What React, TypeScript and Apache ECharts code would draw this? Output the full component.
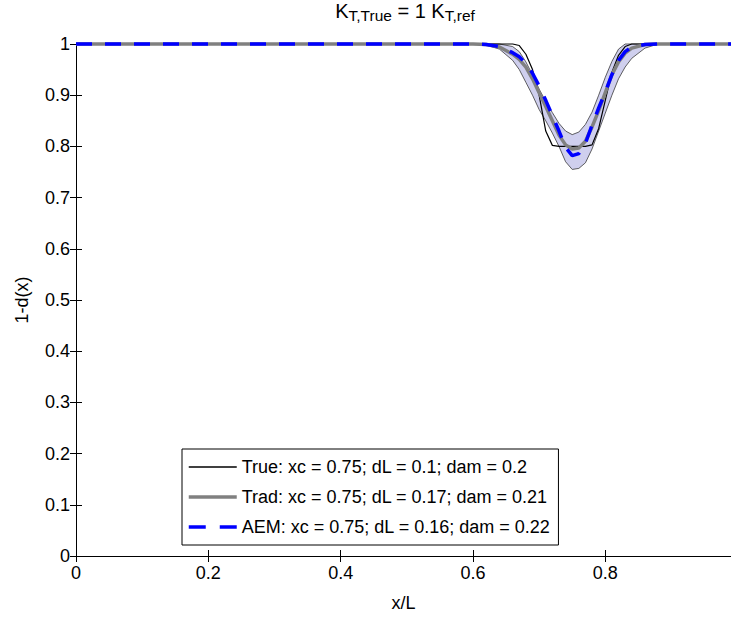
import React, { useEffect, useRef } from 'react';
import * as echarts from 'echarts';

// x/L positions (shared by all curves)
const xs = [0, 0.6, 0.62, 0.64, 0.66, 0.67, 0.68, 0.69, 0.7, 0.71, 0.72, 0.73, 0.74, 0.75, 0.76, 0.77, 0.78, 0.79, 0.8, 0.81, 0.82, 0.83, 0.84, 0.86, 0.88, 0.99];
// 1-d(x) values
const trueVals = [1, 1, 1, 1, 1, 0.997, 0.98, 0.95, 0.9, 0.83, 0.802, 0.8, 0.8, 0.8, 0.8, 0.8, 0.803, 0.835, 0.89, 0.945, 0.978, 0.995, 1, 1, 1, 1];
const tradVals = [1, 1, 0.999, 0.994, 0.98, 0.97, 0.955, 0.932, 0.905, 0.878, 0.85, 0.822, 0.803, 0.795, 0.797, 0.81, 0.838, 0.87, 0.905, 0.94, 0.965, 0.982, 0.992, 0.999, 1, 1];
const aemVals = [1, 1, 0.999, 0.995, 0.983, 0.975, 0.962, 0.943, 0.918, 0.89, 0.86, 0.83, 0.798, 0.782, 0.786, 0.806, 0.842, 0.875, 0.906, 0.94, 0.968, 0.985, 0.994, 0.999, 1, 1];
const bandLow = [1, 1, 0.998, 0.99, 0.968, 0.95, 0.925, 0.9, 0.872, 0.85, 0.826, 0.8, 0.77, 0.755, 0.757, 0.768, 0.795, 0.83, 0.865, 0.9, 0.932, 0.955, 0.972, 0.992, 1, 1];
const bandHigh = [1, 1, 1, 1, 0.995, 0.985, 0.965, 0.94, 0.912, 0.888, 0.866, 0.845, 0.83, 0.823, 0.828, 0.843, 0.867, 0.9, 0.935, 0.966, 0.99, 1, 1, 1, 1, 1];

const seriesNames = [
  'True: xc = 0.75; dL = 0.1; dam = 0.2',
  'Trad: xc = 0.75; dL = 0.17; dam = 0.21',
  'AEM: xc = 0.75; dL = 0.16; dam = 0.22',
];

const FONT = "'Liberation Sans', Arial, Helvetica, sans-serif";

const pairs = (vals: number[]) => xs.map((x, i) => [x, vals[i]]);
const fmt = (v: number) => String(parseFloat(Number(v).toFixed(3)));

export default function App() {
  const ref = useRef<HTMLDivElement>(null);
  useEffect(() => {
    document.body.style.margin = '0';
    const chart = echarts.init(ref.current!, null, { renderer: 'svg' });
    const axisCommon = {
      axisLine: { show: true, lineStyle: { color: '#000', width: 1 } },
      axisTick: { show: true, inside: true, length: 6, lineStyle: { color: '#000', width: 1 } },
      splitLine: { show: false },
    };
    const trueStyle = { color: '#000', width: 1.2 };
    const tradStyle = { color: '#808080', width: 3.5 };
    const aemStyle = { color: '#0000ff', width: 3.5, type: [16, 13] };
    chart.setOption({
      animation: false,
      backgroundColor: '#fff',
      graphic: [
        {
          type: 'text',
          x: 405,
          y: 1,
          style: {
            text: '{k|K}{s|T,True}{k| = 1 K}{s|T,ref}',
            textAlign: 'center',
            textVerticalAlign: 'top',
            rich: {
              k: { fontSize: 20, fontFamily: FONT, fill: '#000', color: '#000', lineHeight: 22, verticalAlign: 'top' },
              s: { fontSize: 15.5, fontFamily: FONT, fill: '#000', color: '#000', lineHeight: 15, padding: [13, 0, 0, 0], verticalAlign: 'bottom' },
            },
          },
        },
      ],
      grid: { left: 76, right: 0, top: 44, bottom: 60, containLabel: false },
      legend: {
        data: [
          { name: seriesNames[0], lineStyle: { color: '#000000', width: 1.6, opacity: 1 } },
          { name: seriesNames[1], lineStyle: { color: '#808080', width: 3.5 } },
          { name: seriesNames[2], lineStyle: { color: '#0000ff', width: 3.5, type: [17, 14] } },
        ],
        orient: 'vertical',
        left: 182,
        top: 449,
        itemWidth: 48,
        itemHeight: 15,
        itemGap: 12,
        padding: [9, 8, 9, 5],
        borderColor: '#000',
        borderWidth: 1,
        borderRadius: 0,
        backgroundColor: '#fff',
        itemStyle: { opacity: 0 },
        textStyle: { fontSize: 18, color: '#000', fontFamily: FONT },
      },
      xAxis: [
        {
          type: 'value',
          min: 0,
          max: 0.99,
          interval: 0.2,
          position: 'bottom',
          ...axisCommon,
          axisLabel: { color: '#000', fontSize: 18, fontFamily: FONT, margin: 8, showMaxLabel: false, formatter: fmt },
          name: 'x/L',
          nameLocation: 'middle',
          nameGap: 38,
          nameTextStyle: { color: '#000', fontSize: 18, fontFamily: FONT },
        },
        {
          type: 'value',
          min: 0,
          max: 0.99,
          interval: 0.2,
          position: 'top',
          ...axisCommon,
          axisLabel: { show: false },
        },
      ],
      yAxis: [
        {
          type: 'value',
          min: 0,
          max: 1,
          interval: 0.1,
          position: 'left',
          ...axisCommon,
          axisLabel: { color: '#000', fontSize: 18, fontFamily: FONT, margin: 6, formatter: fmt },
          name: '1-d(x)',
          nameLocation: 'middle',
          nameGap: 45,
          nameTextStyle: { color: '#000', fontSize: 18, fontFamily: FONT },
        },
        {
          type: 'value',
          min: 0,
          max: 1,
          interval: 0.1,
          position: 'right',
          ...axisCommon,
          axisLabel: { show: false },
        },
      ],
      series: [
        {
          type: 'custom',
          name: 'band',
          silent: true,
          clip: false,
          data: [[0, 1]],
          renderItem: (_params: any, api: any) => {
            const pts: number[][] = [];
            for (let i = 0; i < xs.length; i++) pts.push(api.coord([xs[i], bandHigh[i]]));
            for (let i = xs.length - 1; i >= 0; i--) pts.push(api.coord([xs[i], bandLow[i]]));
            return { type: 'polygon', shape: { points: pts }, style: { fill: '#cfcfee', stroke: 'none' } };
          },
          z: 1,
        },
        {
          type: 'line',
          name: 'bandLow',
          data: pairs(bandLow),
          symbol: 'none',
          clip: false,
          lineStyle: { color: '#3a3a3a', width: 0.8 },
          z: 2,
        },
        {
          type: 'line',
          name: 'bandHigh',
          data: pairs(bandHigh),
          symbol: 'none',
          clip: false,
          lineStyle: { color: '#3a3a3a', width: 0.8 },
          z: 2,
        },
        {
          type: 'line',
          name: seriesNames[0],
          data: pairs(trueVals),
          symbol: 'none',
          clip: false,
          color: '#000',
          lineStyle: trueStyle,
          z: 3,
        },
        {
          type: 'line',
          name: seriesNames[1],
          data: pairs(tradVals),
          symbol: 'none',
          clip: false,
          color: '#808080',
          lineStyle: tradStyle,
          z: 4,
        },
        {
          type: 'line',
          name: seriesNames[2],
          data: pairs(aemVals),
          symbol: 'none',
          clip: false,
          color: '#0000ff',
          lineStyle: aemStyle,
          z: 5,
        },
      ],
    });
    return () => chart.dispose();
  }, []);
  return <div ref={ref} style={{ position: 'fixed', left: 0, top: 0, width: 731, height: 617 }} />;
}
